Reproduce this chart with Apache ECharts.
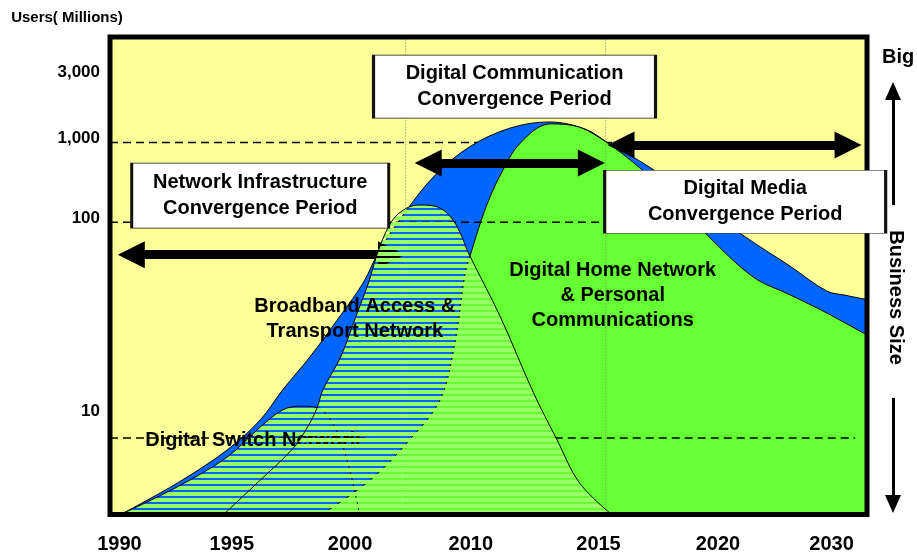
<!DOCTYPE html>
<html>
<head>
<meta charset="utf-8">
<script src="https://cdn.jsdelivr.net/npm/echarts@6/dist/echarts.min.js"></script>
<style>
  html, body { margin: 0; padding: 0; background: #fff; }
  #main { width: 917px; height: 556px; }
</style>
</head>
<body>
<div id="main"></div>
<script>
// x = timeline slot (the printed years are not evenly spaced), y = drawing level 0-100
var xTickPos = [0.8, 10.3, 20.3, 30.5, 41.3, 51.4, 61.0];
var xTickLabels = ['1990', '1995', '2000', '2010', '2015', '2020', '2030'];
var yTickPos = [92.7, 78.8, 62.1, 21.7];
var yTickLabels = ['3,000', '1,000', '100', '10'];

// outer envelope (blue)
var totalUsers = [[0.9, 0], [5.7, 6.6], [9.9, 13.5], [12.7, 19.8], [14.6, 26.1], [16.9, 33.0], [19.2, 40.7],
  [21.4, 48.5], [22.8, 55.4], [25.1, 63.8], [27.5, 71.1], [30.4, 77.0], [33.8, 80.9], [37.2, 82.2],
  [40.2, 80.7], [42.0, 78.0], [45.7, 72.6], [49.9, 65.2], [53.5, 58.5], [57.5, 52.0], [60.6, 46.8],
  [62.2, 45.9], [64, 45.0]];
// Digital Home Network & Personal Communications
var homeNetwork = [[17.9, 0], [22.0, 7.2], [25.1, 15.0], [27.9, 24.0], [29.2, 36.5], [30.0, 50.2],
  [30.6, 55.4], [31.7, 63.8], [33.0, 71.1], [34.7, 77.8], [37.2, 81.8], [39.7, 81.1], [42.0, 77.9],
  [44.2, 73.8], [46.5, 68.8], [50.5, 58.5], [54.4, 49.7], [57.5, 46.0], [60.6, 42.2], [63.7, 38.0],
  [64, 37.6]];
// Digital Switch Network
var switchNetwork = [[0.9, 0], [5.7, 5.8], [9.9, 12.0], [12.7, 18.3], [14.6, 21.9], [16.1, 22.7],
  [17.6, 22.3], [19.5, 15.6], [21.1, 0]];
// Broadband Access & Transport Network
var broadbandNetwork = [[9.6, 0], [12.7, 7.2], [15.5, 13.9], [16.7, 18.3], [17.5, 22.3], [18.0, 26.1],
  [19.5, 33.0], [20.9, 42.2], [21.8, 48.1], [22.8, 56.0], [23.9, 61.7], [25.1, 64.2], [26.2, 64.8],
  [27.7, 64.4], [28.8, 62.3], [29.6, 59.0], [30.3, 54.8], [33.0, 41.4], [35.8, 25.5], [37.8, 15.6],
  [39.7, 6.6], [42.4, 0]];

var dashLevels = [77.9, 61.2, 16.0];      // 1,000 / 100 / 10 guide lines
var periodLines = [25.0, 41.9];           // dotted period borders
var periodArrows = [[1.8, 23.8, 54.4], [26.9, 40.7, 73.6], [43.2, 62.4, 77.4]]; // from, to, level
var sizeArrows = [[0.724, 1], [0.257, 0]]; // business size scale: tail, tip

var font = "'Liberation Sans', Arial, sans-serif";

function makeHatch() {
  // light green stripes, the gaps let the layer below show through
  var c = document.createElement('canvas');
  c.width = 8;
  c.height = 6;
  var ctx = c.getContext('2d');
  ctx.fillStyle = '#99FF66';
  ctx.fillRect(0, 0, 8, 4);
  return c;
}
var hatch = makeHatch();

function area(name, data, z, fill) {
  return {
    type: 'line', name: name, data: data, z: z,
    smooth: 0.35,
    symbol: 'none', showSymbol: false, silent: true,
    lineStyle: { color: '#000', width: 1 },
    areaStyle: { color: fill, opacity: 1 }
  };
}

function rule(data, z, dash, color, width) {
  return {
    type: 'line', data: data, z: z, symbol: 'none', silent: true,
    lineStyle: { color: color, width: width, type: dash }
  };
}

function nearest(list, v) {
  var best = 0;
  for (var i = 1; i < list.length; i++) {
    if (Math.abs(list[i] - v) < Math.abs(list[best] - v)) best = i;
  }
  return best;
}

var boldText = { fontFamily: font, fontWeight: 'bold', color: '#000' };

var chart = echarts.init(document.getElementById('main'));

var dash1000 = rule([[0, dashLevels[0]], [63, dashLevels[0]]], 1, [8, 5], '#000', 1.5);
dash1000.markArea = {
  silent: true, z: 0,
  itemStyle: { color: '#FFFF99', opacity: 1 },
  data: [[{ coord: [0, 0] }, { coord: [64, 100] }]]
};

var blue = area('Total', totalUsers, 2, '#0066FF');
blue.markPoint = {
  silent: true, z: 25, symbol: 'rect',
  itemStyle: { color: '#fff', borderColor: '#111', borderWidth: 1.5 },
  label: Object.assign({ show: true, position: 'inside', fontSize: 20, lineHeight: 26, formatter: '{b}' }, boldText),
  data: [
    { name: 'Network Infrastructure\nConvergence Period', coord: [12.7, 66.8], symbolSize: [257, 65] },
    { name: 'Digital Communication\nConvergence Period', coord: [34.2, 89.6], symbolSize: [282, 63] },
    { name: 'Digital Media\nConvergence Period', coord: [53.7, 65.5], symbolSize: [281, 63] }
  ]
};

var green = area('Digital Home Network', homeNetwork, 3, '#66FF33');

var dash100 = rule([[0, dashLevels[1]], [63, dashLevels[1]]], 4, [8, 5], '#000', 1.5);
dash100.markLine = {
  silent: true, z: 5,
  symbol: ['triangle', 'triangle'], symbolSize: [27, 27],
  label: { show: false },
  lineStyle: { color: '#000', width: 9, type: 'solid' },
  data: periodArrows.map(function (a) {
    return [{ coord: [a[0], a[2]] }, { coord: [a[1], a[2]] }];
  })
};

var dash10a = rule([[0, dashLevels[2]], [22.0, dashLevels[2]]], 4, [8, 5], '#000', 1.5);
var dash10b = rule([[37.6, dashLevels[2]], [63, dashLevels[2]]], 4, [8, 5], '#000', 1.5);
var vline1 = rule([[periodLines[0], 0], [periodLines[0], 100]], 4, [1, 2], '#7d7d6a', 1);
var vline2 = rule([[periodLines[1], 0], [periodLines[1], 100]], 4, [1, 2], '#7d7d6a', 1);

var sw = area('Digital Switch Network', switchNetwork, 6, { image: hatch, repeat: 'repeat' });
sw.markPoint = {
  silent: true, z: 6.5, symbol: 'rect', symbolSize: 1,
  itemStyle: { color: 'rgba(0,0,0,0)' },
  label: Object.assign({ show: true, position: 'inside', fontSize: 20, formatter: '{b}' }, boldText),
  data: [{ name: 'Digital Switch Network', coord: [12.1, 15.4] }]
};

var bb = area('Broadband', broadbandNetwork, 7, { image: hatch, repeat: 'repeat' });
bb.markPoint = {
  silent: true, z: 8, symbol: 'rect', symbolSize: 1,
  itemStyle: { color: 'rgba(0,0,0,0)' },
  label: Object.assign({ show: true, position: 'inside', fontSize: 20, lineHeight: 25, formatter: '{b}' }, boldText),
  data: [
    { name: 'Broadband Access &\nTransport Network', coord: [20.7, 40.9] },
    { name: 'Digital Home Network\n& Personal\nCommunications', coord: [42.5, 45.8] }
  ]
};

// business size arrows live in a thin grid right of the plot
var sizeScale = {
  type: 'line', xAxisIndex: 1, yAxisIndex: 1, data: [[0, 0.5]],
  symbol: 'none', silent: true, lineStyle: { width: 0 },
  markLine: {
    silent: true, z: 5,
    symbol: ['none', 'triangle'], symbolSize: [16, 18],
    label: { show: false },
    lineStyle: { color: '#000', width: 3, type: 'solid' },
    data: sizeArrows.map(function (a) {
      return [{ coord: [0, a[0]] }, { coord: [0, a[1]] }];
    })
  }
};

var hidden = { show: false };

chart.setOption({
  animation: false,
  textStyle: { fontFamily: font },
  grid: [
    { left: 110, right: 50, top: 37, bottom: 41.5, show: true, z: 20,
      backgroundColor: 'transparent', borderColor: '#000', borderWidth: 5 },
    { left: 893, right: 23, top: 91, bottom: 52, show: false }
  ],
  xAxis: [
    {
      type: 'value', gridIndex: 0, min: 0, max: 64,
      axisLine: hidden, axisTick: hidden, splitLine: hidden,
      axisLabel: Object.assign({
        customValues: xTickPos, fontSize: 20, margin: 20,
        formatter: function (v) { return xTickLabels[nearest(xTickPos, v)]; }
      }, boldText)
    },
    {
      type: 'value', gridIndex: 1, position: 'top', min: 0, max: 1,
      axisLine: hidden, axisTick: hidden, splitLine: hidden, axisLabel: hidden,
      name: 'Big', nameLocation: 'middle', nameGap: 24,
      nameTextStyle: Object.assign({ fontSize: 20, padding: [0, 0, 0, 10] }, boldText)
    }
  ],
  yAxis: [
    {
      type: 'value', gridIndex: 0, min: 0, max: 100,
      axisLine: hidden, axisTick: hidden, splitLine: hidden,
      axisLabel: Object.assign({
        customValues: yTickPos, fontSize: 17, margin: 10,
        formatter: function (v) { return yTickLabels[nearest(yTickPos, v)]; }
      }, boldText),
      name: 'Users( Millions)', nameLocation: 'end', nameGap: 12,
      nameTextStyle: Object.assign({ fontSize: 15, align: 'center', padding: [0, 86, 0, 0] }, boldText)
    },
    {
      type: 'value', gridIndex: 1, min: 0, max: 1,
      axisLine: hidden, axisTick: hidden, splitLine: hidden, axisLabel: hidden,
      name: 'Business Size', nameLocation: 'middle', nameRotate: -90, nameGap: -13,
      nameTextStyle: Object.assign({ fontSize: 20 }, boldText)
    }
  ],
  series: [dash1000, blue, green, dash100, dash10a, dash10b, vline1, vline2, sw, bb, sizeScale]
});
</script>
</body>
</html>
